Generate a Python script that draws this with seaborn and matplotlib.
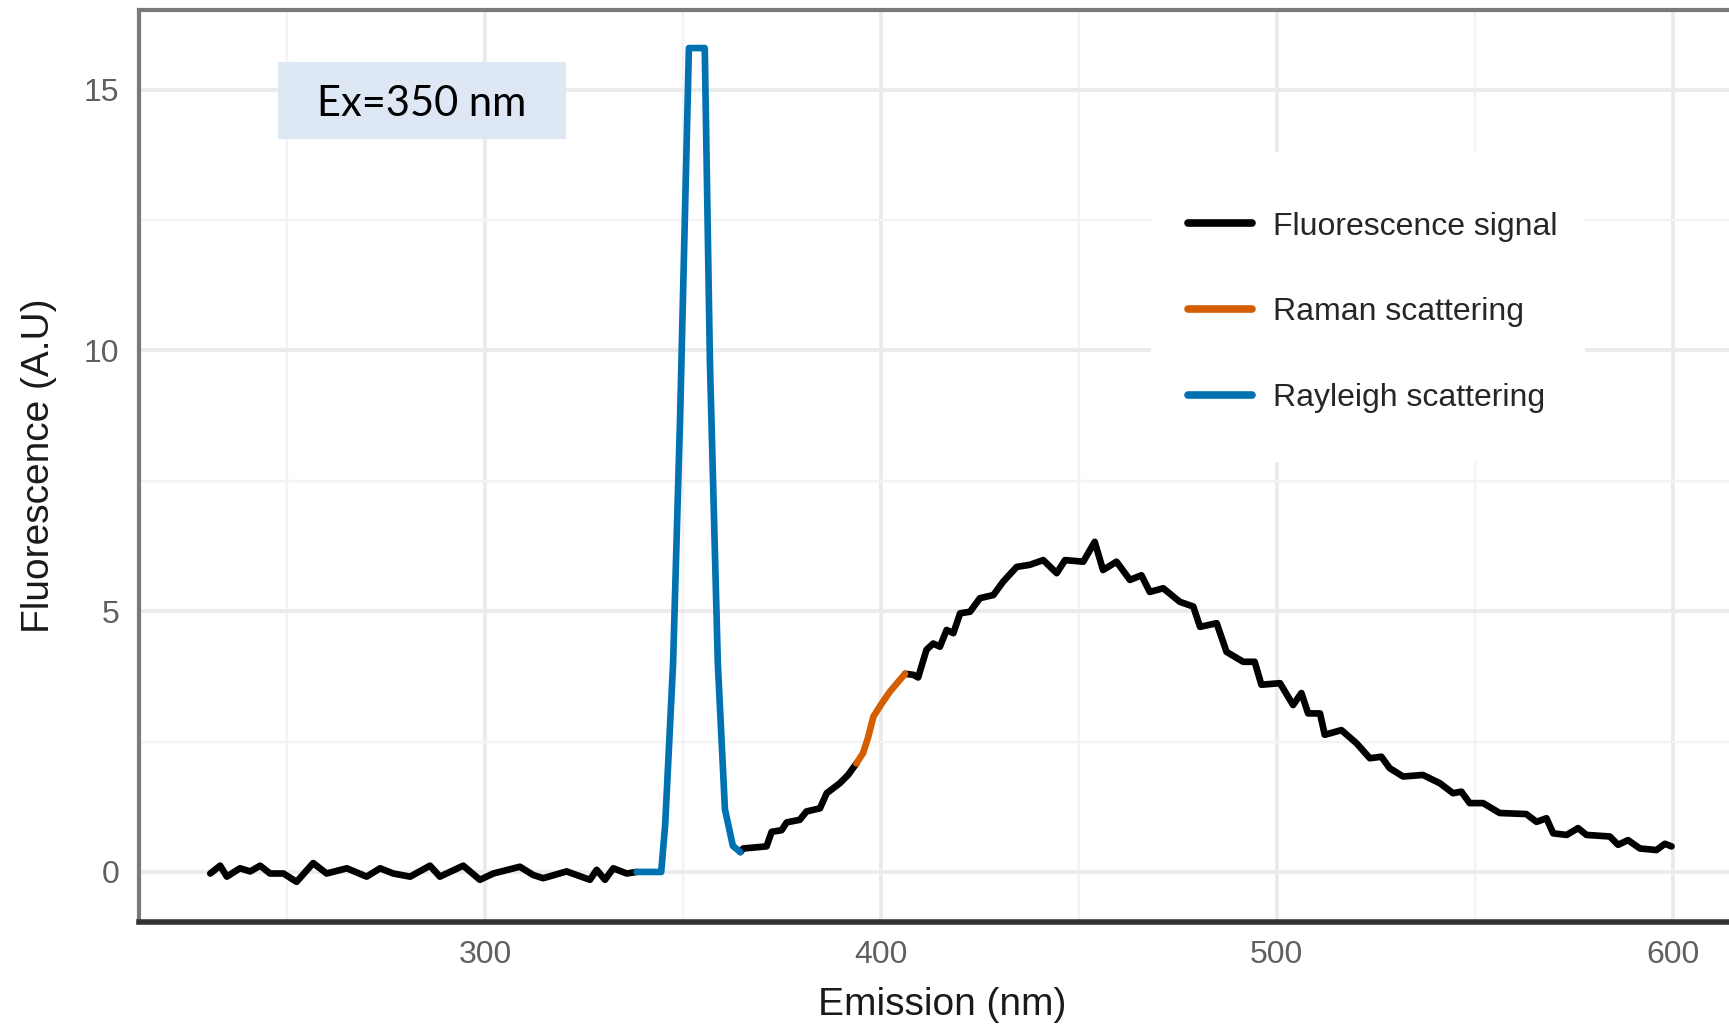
import matplotlib
matplotlib.use("Agg")
import matplotlib.pyplot as plt
from matplotlib.patches import Rectangle
import seaborn as sns
import pandas as pd

# ---------------- data ----------------
baseline_x = [230.6, 233.1, 234.8, 238.1, 240.7, 243.2, 245.7, 249.1, 252.4, 256.6,
              260.0, 265.1, 270.1, 273.5, 276.8, 281.1, 286.1, 288.6, 294.5, 298.7,
              302.1, 308.8, 312.2, 314.7, 320.6, 326.5, 328.2, 330.3, 332.4, 335.8, 338.3]
baseline_y = [-0.03, 0.12, -0.09, 0.07, 0.01, 0.12, -0.03, -0.03, -0.19, 0.17,
              -0.03, 0.07, -0.09, 0.07, -0.03, -0.09, 0.12, -0.09, 0.12, -0.15,
              -0.03, 0.10, -0.06, -0.12, 0.01, -0.15, 0.04, -0.15, 0.07, -0.03, 0.0]

rayleigh_x = [338.3, 344.5, 345.5, 347.5, 349.3, 351.5, 355.5, 356.8, 358.8, 360.6, 362.6, 364.5]
rayleigh_y = [0.0, 0.0, 0.9, 4.0, 8.8, 15.8, 15.8, 9.8, 4.0, 1.2, 0.5, 0.38]

rise_x = [364.5, 365.2, 371.1, 372.4, 374.9, 376.2, 379.5, 381.2, 384.6, 386.3, 389.6, 391.7, 393.8]
rise_y = [0.38, 0.45, 0.49, 0.77, 0.80, 0.95, 1.00, 1.16, 1.22, 1.51, 1.70, 1.86, 2.08]

raman_x = [393.8, 395.5, 396.8, 398.1, 400.2, 402.3, 404.4, 406.1]
raman_y = [2.08, 2.28, 2.59, 2.98, 3.23, 3.46, 3.65, 3.80]

emission_x = [406.1, 408.2, 409.4, 411.5, 413.2, 414.9, 416.6, 418.3, 420.0, 422.5,
              425.0, 428.4, 430.9, 434.3, 437.6, 441.0, 444.4, 446.5, 451.1, 454.0,
              456.1, 459.5, 462.9, 465.8, 467.9, 471.3, 475.5, 478.9, 480.6, 484.8,
              487.3, 491.5, 494.4, 496.1, 500.8, 504.1, 506.2, 507.9, 510.9, 512.1,
              516.3, 520.1, 523.5, 526.4, 528.5, 531.9, 536.9, 541.2, 544.5, 546.6,
              548.7, 552.1, 556.3, 563.0, 565.6, 568.1, 569.8, 573.2, 576.1, 578.2,
              584.1, 586.2, 588.7, 591.7, 595.9, 598.0, 599.7]
emission_y = [3.80, 3.78, 3.73, 4.26, 4.38, 4.32, 4.64, 4.58, 4.96, 4.99,
              5.25, 5.31, 5.57, 5.85, 5.89, 5.98, 5.73, 5.98, 5.95, 6.33,
              5.79, 5.95, 5.60, 5.69, 5.37, 5.44, 5.18, 5.09, 4.70, 4.77,
              4.22, 4.03, 4.03, 3.59, 3.62, 3.20, 3.43, 3.04, 3.04, 2.63,
              2.72, 2.47, 2.18, 2.21, 1.99, 1.83, 1.86, 1.70, 1.51, 1.54,
              1.32, 1.32, 1.13, 1.11, 0.96, 1.03, 0.74, 0.71, 0.84, 0.71,
              0.68, 0.52, 0.61, 0.45, 0.42, 0.54, 0.49]

labels = ["Fluorescence signal", "Raman scattering", "Rayleigh scattering"]
colors = ["#000000", "#D55E00", "#0072B2"]
x_ticks = [300, 400, 500, 600]
y_ticks = [0, 5, 10, 15]

segments = [
    (baseline_x, baseline_y, labels[0]),
    (rayleigh_x, rayleigh_y, labels[2]),
    (rise_x, rise_y, labels[0]),
    (raman_x, raman_y, labels[1]),
    (emission_x, emission_y, labels[0]),
]
rows = []
for i, (xs, ys, kind) in enumerate(segments):
    for xv, yv in zip(xs, ys):
        rows.append({"x": xv, "y": yv, "kind": kind, "seg": i})
df = pd.DataFrame(rows)

# ---------------- style ----------------
sns.set_theme(style="white")
plt.rcParams["font.family"] = ["Liberation Sans", "DejaVu Sans"]

fig = plt.figure(figsize=(17.29, 10.24), dpi=100)
ax = fig.add_axes([0.08039, 0.09961, 0.92944, 0.89063])

sns.lineplot(data=df, x="x", y="y", hue="kind", units="seg", estimator=None,
             hue_order=labels, palette=dict(zip(labels, colors)),
             linewidth=4.8, ax=ax, sort=False, legend=True)

ax.set_xlim(212.6, 618.5)
ax.set_ylim(-0.96, 16.53)
ax.set_xticks(x_ticks)
ax.set_yticks(y_ticks)
ax.set_xticks([250, 350, 450, 550], minor=True)
ax.set_yticks([2.5, 7.5, 12.5], minor=True)
ax.set_axisbelow(True)
ax.grid(which="major", color="#EBEBEB", linewidth=2.8)
ax.grid(which="minor", color="#F3F3F3", linewidth=1.7)

ax.tick_params(which="major", length=6, width=3, color="#555555",
               labelsize=23, labelcolor="#606060")
ax.tick_params(axis="x", pad=7)
ax.tick_params(axis="y", pad=8)
ax.tick_params(which="minor", length=0)

for side in ["left", "top"]:
    ax.spines[side].set_color("#7a7a7a")
    ax.spines[side].set_linewidth(3)
ax.spines["bottom"].set_color("#333333")
ax.spines["bottom"].set_linewidth(4)
ax.spines["right"].set_visible(False)

ax.set_xlabel("Emission (nm)", fontsize=28, color="#1a1a1a")
ax.set_ylabel("Fluorescence (A.U)", fontsize=28, color="#1a1a1a")
ax.xaxis.set_label_coords(0.5, -0.0915)
ax.yaxis.set_label_coords(-0.062, 0.5)
ax.xaxis.label.set_verticalalignment("center")
ax.yaxis.label.set_verticalalignment("center")

# legend with white background box
ax.add_patch(Rectangle((0.630, 0.504), 0.270, 0.340, transform=ax.transAxes,
                       facecolor="white", edgecolor="none", zorder=1))
handles, labs = ax.get_legend_handles_labels()
leg = ax.legend(handles, labs, loc="upper left", bbox_to_anchor=(0.6525, 0.779),
                frameon=False, fontsize=23, handlelength=2.03, handletextpad=0.65,
                labelspacing=1.75, borderpad=0, borderaxespad=0)
for line in leg.get_lines():
    line.set_linewidth(5.5)
for t in leg.get_texts():
    t.set_color("#262626")

# annotation box
ax.add_patch(Rectangle((0.0865, 0.8586), 0.1792, 0.0844, transform=ax.transAxes,
                       facecolor="#DDE8F4", edgecolor="none", zorder=3))
ax.text(0.176, 0.897, "Ex=350 nm", transform=ax.transAxes, ha="center", va="center",
        fontsize=30, family=["Lato", "DejaVu Sans"], color="black", zorder=4)

fig.savefig("out.png", dpi=100)
